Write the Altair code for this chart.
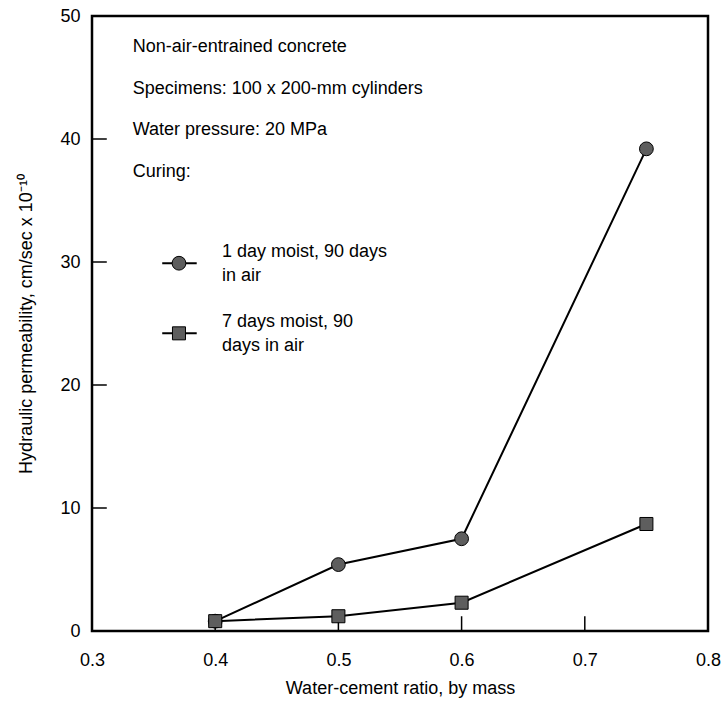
import altair as alt
import pandas as pd

# Data
ratio = [0.4, 0.5, 0.6, 0.75]
perm_1day = [0.8, 5.4, 7.5, 39.2]
perm_7day = [0.8, 1.2, 2.3, 8.7]
series_names = ["1 day moist, 90 days in air", "7 days moist, 90 days in air"]

x_ticks = [0.4, 0.5, 0.6, 0.7]
y_ticks = [10, 20, 30, 40]

notes = ["Non-air-entrained concrete", "Specimens: 100 x 200-mm cylinders",
         "Water pressure: 20 MPa", "Curing:"]
notes_y = [47.5, 44.1, 40.7, 37.3]
notes_x = 0.333

legend_lines = [["1 day moist, 90 days", "in air"], ["7 days moist, 90", "days in air"]]
legend_y = [29.9, 24.2]
legend_text_y = [[30.8, 28.9], [25.1, 23.2]]
legend_sym_x = 0.3706
legend_line_x = [0.357, 0.385]
legend_text_x = 0.4055

FONT = "Liberation Sans"
FS = 18

df = pd.DataFrame({
    "ratio": ratio * 2,
    "perm": perm_1day + perm_7day,
    "series": [series_names[0]] * 4 + [series_names[1]] * 4,
})

xs = alt.Scale(domain=[0.3, 0.8], nice=False, zero=False)
ys = alt.Scale(domain=[0, 50], nice=False)

X = alt.X("ratio:Q", scale=xs, title="Water-cement ratio, by mass",
          axis=alt.Axis(values=[0.3, 0.4, 0.5, 0.6, 0.7, 0.8], format=".1f", grid=False,
                        domain=False, ticks=False, labelPadding=20, labelFontSize=18,
                        titleFontSize=18, titlePadding=10, labelFont=FONT, titleFont=FONT,
                        titleFontWeight="normal", labelColor="black", titleColor="black",
                        labelFlush=False))
Y = alt.Y("perm:Q", scale=ys, title="Hydraulic permeability, cm/sec x 10⁻¹⁰",
          axis=alt.Axis(values=[0, 10, 20, 30, 40, 50], grid=False, domain=False, ticks=False,
                        labelPadding=12, labelFontSize=18, titleFontSize=18, titlePadding=24,
                        labelFont=FONT, titleFont=FONT, titleFontWeight="normal",
                        labelColor="black", titleColor="black", labelFlush=False))

base = alt.Chart(df)
lines = base.mark_line(color="black", strokeWidth=2).encode(x=X, y=Y, detail="series:N")
circles = base.transform_filter(alt.datum.series == series_names[0]).mark_point(
    shape="circle", filled=True, size=190, fill="#5e5e5e", stroke="black", strokeWidth=1, opacity=1
).encode(x="ratio:Q", y="perm:Q")
squares = base.transform_filter(alt.datum.series == series_names[1]).mark_point(
    shape="square", filled=True, size=170, fill="#5e5e5e", stroke="black", strokeWidth=1, opacity=1
).encode(x="ratio:Q", y="perm:Q")

# inward ticks
xt = alt.Chart(pd.DataFrame({"ratio": x_ticks, "y0": [0] * 4, "y1": [1.2] * 4})).mark_rule(
    color="black", strokeWidth=1.5).encode(x="ratio:Q", y="y0:Q", y2="y1:Q")
yt = alt.Chart(pd.DataFrame({"perm": y_ticks, "x0": [0.3] * 4, "x1": [0.312] * 4})).mark_rule(
    color="black", strokeWidth=1.5).encode(y="perm:Q", x="x0:Q", x2="x1:Q")

notes_df = pd.DataFrame({"text": notes, "y": notes_y, "x": [notes_x] * 4})
notes_layer = alt.Chart(notes_df).mark_text(align="left", baseline="middle", fontSize=FS,
                                            font=FONT, color="black").encode(
    x="x:Q", y="y:Q", text="text:N")

leg_text_df = pd.DataFrame({
    "text": legend_lines[0] + legend_lines[1],
    "y": legend_text_y[0] + legend_text_y[1],
    "x": [legend_text_x] * 4,
})
leg_text = alt.Chart(leg_text_df).mark_text(align="left", baseline="middle", fontSize=FS,
                                            font=FONT, color="black").encode(
    x="x:Q", y="y:Q", text="text:N")

leg_line_df = pd.DataFrame({"x0": [legend_line_x[0]] * 2, "x1": [legend_line_x[1]] * 2,
                            "y": legend_y})
leg_lines = alt.Chart(leg_line_df).mark_rule(color="black", strokeWidth=2).encode(
    x="x0:Q", x2="x1:Q", y="y:Q")
leg_c = alt.Chart(pd.DataFrame({"x": [legend_sym_x], "y": [legend_y[0]]})).mark_point(
    shape="circle", filled=True, size=190, fill="#5e5e5e", stroke="black", strokeWidth=1, opacity=1
).encode(x="x:Q", y="y:Q")
leg_s = alt.Chart(pd.DataFrame({"x": [legend_sym_x], "y": [legend_y[1]]})).mark_point(
    shape="square", filled=True, size=170, fill="#5e5e5e", stroke="black", strokeWidth=1, opacity=1
).encode(x="x:Q", y="y:Q")

chart = alt.layer(lines, xt, yt, circles, squares, notes_layer, leg_text, leg_lines, leg_c, leg_s
                  ).properties(
    width=616, height=615,
    autosize=alt.AutoSizeParams(type="none"),
    padding={"left": 92, "top": 16, "right": 16, "bottom": 72},
    background="white",
).configure_view(stroke="black", strokeWidth=2.5)

chart.save("out.html", embed_options={"renderer": "svg", "actions": False})
